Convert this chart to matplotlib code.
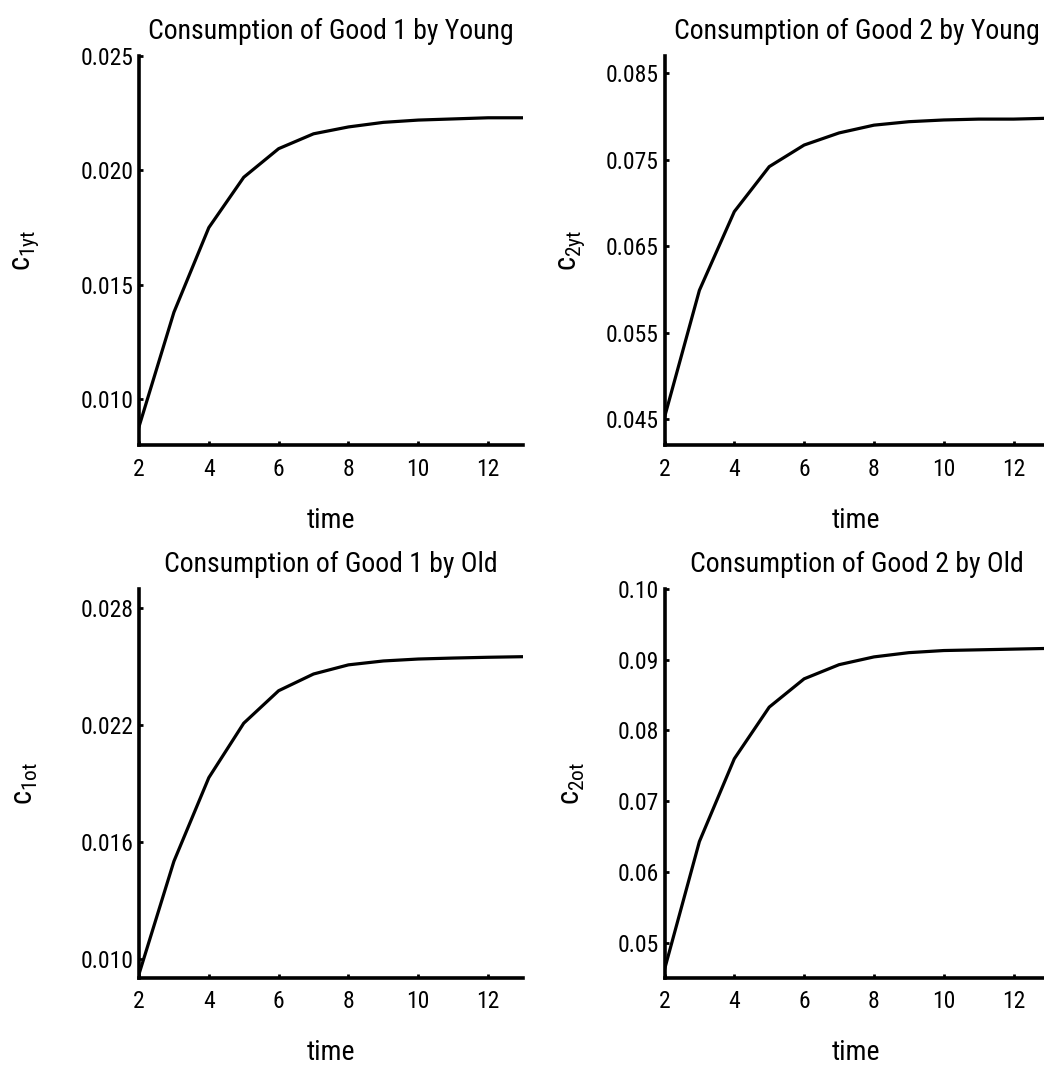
import matplotlib
matplotlib.use('Agg')
import matplotlib.pyplot as plt

# narrow sans to stand in for the source's condensed Helvetica
plt.rcParams['font.family'] = ['Roboto Condensed', 'Liberation Sans', 'DejaVu Sans']
plt.rcParams['mathtext.default'] = 'regular'
fs = 17

time = [2, 3, 4, 5, 6, 7, 8, 9, 10, 11, 12, 13]

c1y = [0.0088, 0.0138, 0.0175, 0.0197, 0.02095, 0.0216, 0.0219, 0.0221, 0.0222, 0.02225, 0.0223, 0.0223]
c2y = [0.0452, 0.0599, 0.0690, 0.0742, 0.0767, 0.0781, 0.0790, 0.0794, 0.0796, 0.0797, 0.0797, 0.0798]
c1o = [0.0092, 0.0150, 0.0193, 0.0221, 0.02377, 0.02463, 0.0251, 0.0253, 0.0254, 0.02545, 0.02549, 0.02552]
c2o = [0.0462, 0.0643, 0.0760, 0.0833, 0.0873, 0.0893, 0.0904, 0.0910, 0.0913, 0.0914, 0.0915, 0.0916]

titles = ['Consumption of Good 1 by Young', 'Consumption of Good 2 by Young',
          'Consumption of Good 1 by Old', 'Consumption of Good 2 by Old']
ylabels = ['$c_{1yt}$', '$c_{2yt}$', '$c_{1ot}$', '$c_{2ot}$']
ylims = [(0.008, 0.025), (0.042, 0.087), (0.009, 0.029), (0.045, 0.100)]
yticks = [[0.010, 0.015, 0.020, 0.025],
          [0.045, 0.055, 0.065, 0.075, 0.085],
          [0.010, 0.016, 0.022, 0.028],
          [0.05, 0.06, 0.07, 0.08, 0.09, 0.10]]
yfmt = ['%.3f', '%.3f', '%.3f', '%.2f']
series = [c1y, c2y, c1o, c2o]

# axes rectangles in figure fraction (right column runs off the edge, like the source)
W, H = 1044, 1068
lefts = [139 / W, 664.5 / W, 139 / W, 664.5 / W]
bottoms = [1 - 445 / H, 1 - 445 / H, 1 - 978 / H, 1 - 978 / H]
aw, ah = 384 / W, 389 / H
ylab_x = [-0.295, -0.24, -0.295, -0.24]

fig = plt.figure(figsize=(10.44, 10.68), dpi=100)

for i in range(4):
    ax = fig.add_axes([lefts[i], bottoms[i], aw, ah])
    ax.plot(time, series[i], color='black', linewidth=2.3)
    ax.set_xlim(2, 13)
    ax.set_ylim(*ylims[i])
    ax.set_xticks([2, 4, 6, 8, 10, 12])
    ax.set_yticks(yticks[i])
    ax.set_yticklabels([yfmt[i] % v for v in yticks[i]])
    for s in ['top', 'right']:
        ax.spines[s].set_visible(False)
    for s in ['left', 'bottom']:
        ax.spines[s].set_linewidth(2.6)
    ax.tick_params(direction='in', length=3, width=2, labelsize=fs)
    ax.tick_params(axis='x', pad=9)
    ax.tick_params(axis='y', pad=4)
    ax.set_title(titles[i], fontsize=20, pad=12)
    ax.set_xlabel('time', fontsize=20)
    ax.xaxis.set_label_coords(0.5, -75 / 389)
    ax.xaxis.label.set_va('center')
    ax.set_ylabel(ylabels[i], fontsize=22)
    ax.yaxis.set_label_coords(ylab_x[i], 0.5)
    ax.yaxis.label.set_va('center')

fig.savefig('out.png', dpi=100)
